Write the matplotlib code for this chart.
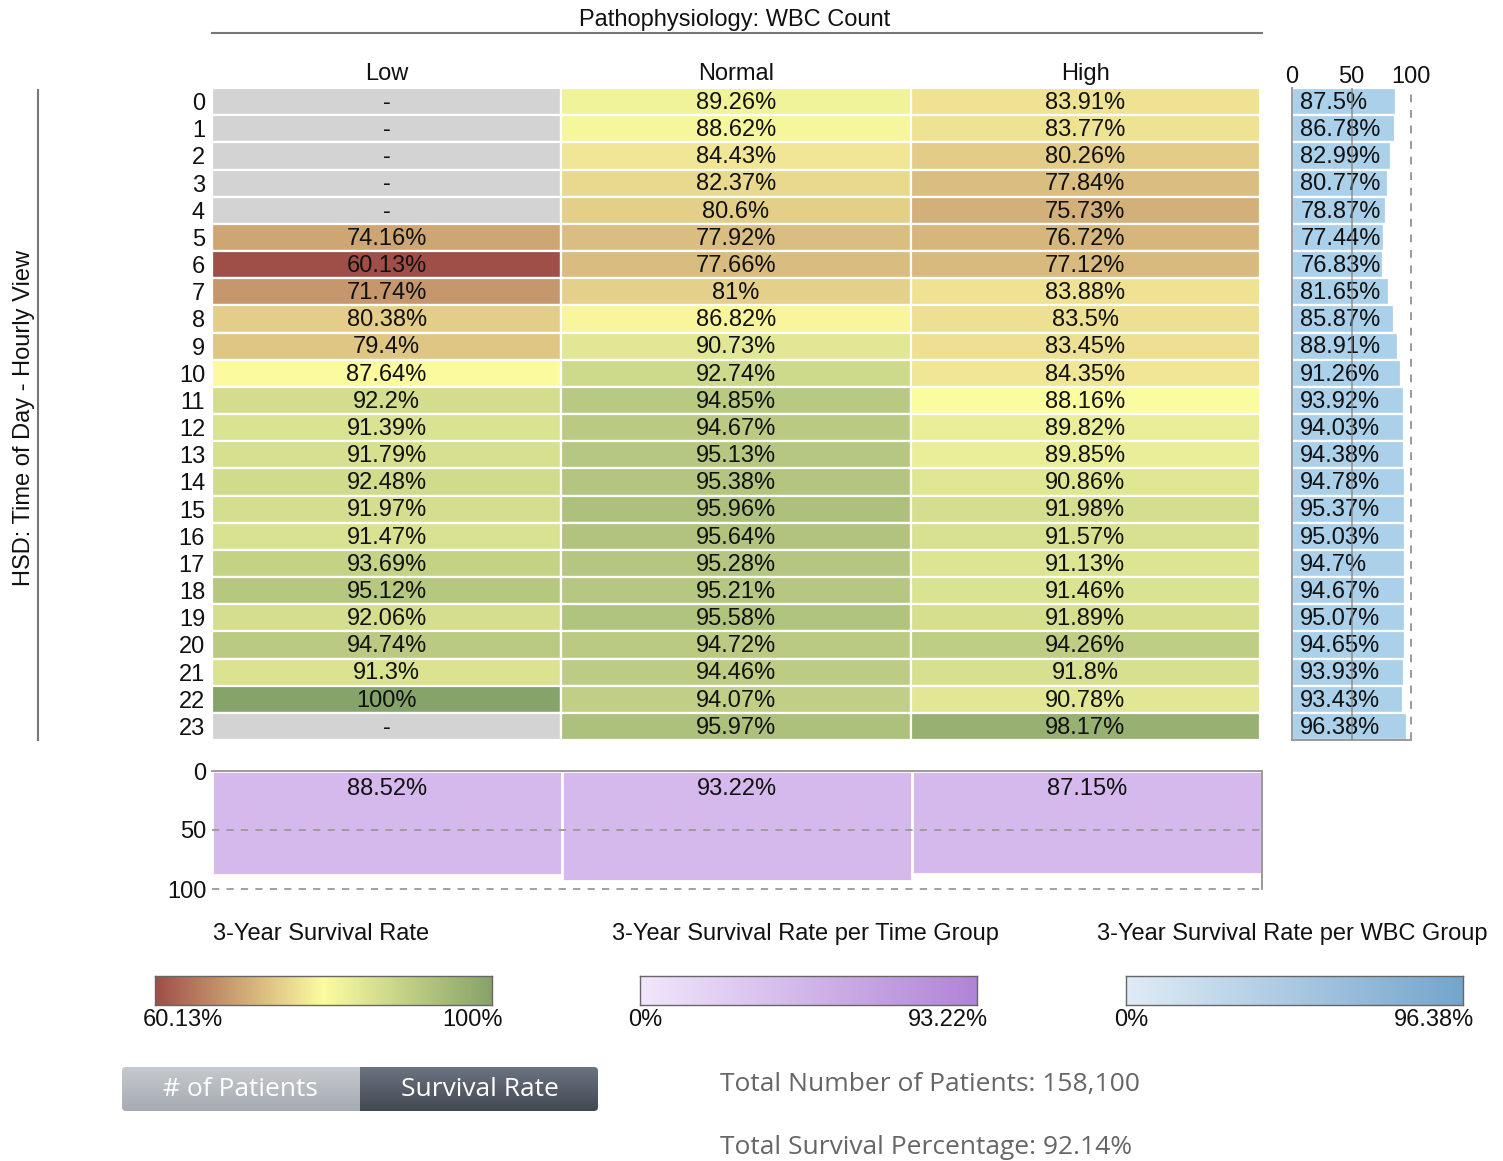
import numpy as np
import matplotlib
matplotlib.use("Agg")
import matplotlib.pyplot as plt
import matplotlib.transforms as mtransforms
from matplotlib.colors import LinearSegmentedColormap, TwoSlopeNorm
from matplotlib.lines import Line2D
from matplotlib.patches import FancyBboxPatch

plt.rcParams['font.family'] = ['Liberation Sans', 'DejaVu Sans']

# data
hours = list(range(24))
wbc_groups = ["Low", "Normal", "High"]
low = [np.nan] * 5 + [74.16, 60.13, 71.74, 80.38, 79.4, 87.64, 92.2, 91.39, 91.79,
                      92.48, 91.97, 91.47, 93.69, 95.12, 92.06, 94.74, 91.3, 100, np.nan]
normal = [89.26, 88.62, 84.43, 82.37, 80.6, 77.92, 77.66, 81, 86.82, 90.73, 92.74, 94.85,
          94.67, 95.13, 95.38, 95.96, 95.64, 95.28, 95.21, 95.58, 94.72, 94.46, 94.07, 95.97]
high = [83.91, 83.77, 80.26, 77.84, 75.73, 76.72, 77.12, 83.88, 83.5, 83.45, 84.35, 88.16,
        89.82, 89.85, 90.86, 91.98, 91.57, 91.13, 91.46, 91.89, 94.26, 91.8, 90.78, 98.17]
hour_rate = [87.5, 86.78, 82.99, 80.77, 78.87, 77.44, 76.83, 81.65, 85.87, 88.91, 91.26, 93.92,
             94.03, 94.38, 94.78, 95.37, 95.03, 94.7, 94.67, 95.07, 94.65, 93.93, 93.43, 96.38]
group_rate = [88.52, 93.22, 87.15]
total_patients = "158,100"
total_survival = 92.14

W, H = 1503, 1161
fig = plt.figure(figsize=(W / 100, H / 100), dpi=100)


def box(x0, y0, x1, y1):
    # pixel box -> figure fraction
    return [x0 / W, 1 - y1 / H, (x1 - x0) / W, (y1 - y0) / H]


def fx(x):
    return x / W


def fy(y):
    return 1 - y / H


txt = '#111111'
grid_c = '#9a9a9a'
fs = 17
ui_font = ['Open Sans', 'DejaVu Sans']

rate_cmap = LinearSegmentedColormap.from_list('rate', ['#9f4f48', '#fcfca0', '#86a36a'])
norm = TwoSlopeNorm(vmin=60.13, vcenter=88.0, vmax=100)

# --- main heatmap ---
ax = fig.add_axes(box(212, 88, 1260, 740))
for j, col in enumerate([low, normal, high]):
    colors = ['#d3d3d3' if np.isnan(v) else rate_cmap(norm(v)) for v in col]
    ax.barh(hours, 1, left=j, height=1, color=colors, edgecolor='white', linewidth=1.6)
    for i, v in enumerate(col):
        lab = '-' if np.isnan(v) else f"{v:g}%"
        ax.text(j + 0.5, i + 0.05, lab, ha='center', va='center', fontsize=fs, color=txt)
ax.set_xlim(0, 3)
ax.set_ylim(23.5, -0.5)
for s in ax.spines.values():
    s.set_visible(False)
ax.set_yticks(hours)
ax.set_yticklabels([str(h) for h in hours], fontsize=fs, color=txt)
shift = mtransforms.ScaledTranslation(0, 4 / 100, fig.dpi_scale_trans)
for lab in ax.get_yticklabels():
    lab.set_transform(lab.get_transform() + shift)
ax.xaxis.tick_top()
ax.set_xticks([0.5, 1.5, 2.5])
ax.set_xticklabels(wbc_groups, fontsize=fs, color=txt)
ax.tick_params(length=0, pad=2)
ax.tick_params(axis='y', pad=5)

fig.text(fx(735), fy(20), "Pathophysiology: WBC Count", ha='center', va='center',
         fontsize=fs, color=txt)
fig.add_artist(Line2D([fx(212), fx(1262)], [fy(33), fy(33)], color='#777777', lw=1.5))
fig.text(fx(24), fy(418), "HSD: Time of Day - Hourly View", rotation=90,
         ha='center', va='center', fontsize=fs, color=txt)
fig.add_artist(Line2D([fx(38), fx(38)], [fy(90), fy(740)], color='#777777', lw=1.5))

# --- survival per hour (right) ---
axr = fig.add_axes(box(1292, 88, 1411, 740))
axr.barh(hours, hour_rate, height=1, color='#abd0ea', edgecolor='white', linewidth=1.6)
for i, v in enumerate(hour_rate):
    axr.text(7, i + 0.05, f"{v:g}%", ha='left', va='center', fontsize=fs, color=txt)
axr.axvline(50, color='#808080', lw=1.3, alpha=0.7, zorder=3)
axr.axvline(100, color=grid_c, lw=1.4, ls=(0, (4, 4)), zorder=3, clip_on=False)
axr.set_xlim(0, 100)
axr.set_ylim(23.5, -0.5)
axr.spines['top'].set_visible(False)
axr.spines['right'].set_visible(False)
for side in ['left', 'bottom']:
    axr.spines[side].set_color(grid_c)
    axr.spines[side].set_linewidth(1.4)
axr.xaxis.tick_top()
axr.set_xticks([0, 50, 100])
axr.set_xticklabels(['0', '50', '100'], fontsize=fs, color=txt)
axr.set_yticks([])
axr.tick_params(length=0, pad=0)

# --- survival per WBC group (bottom) ---
axb = fig.add_axes(box(212, 771, 1262, 889))
axb.bar([0.5, 1.5, 2.5], group_rate, width=1, color='#d5b8ec', edgecolor='white', linewidth=2)
for i, v in enumerate(group_rate):
    axb.text(i + 0.5, 15, f"{v:g}%", ha='center', va='center', fontsize=fs, color=txt)
for yv in [50, 100]:
    axb.axhline(yv, color=grid_c, lw=1.3, ls=(0, (4, 4)), zorder=3, clip_on=False)
axb.set_xlim(0, 3)
axb.set_ylim(100, 0)
axb.spines['left'].set_visible(False)
axb.spines['bottom'].set_visible(False)
for side in ['top', 'right']:
    axb.spines[side].set_color(grid_c)
    axb.spines[side].set_linewidth(1.4)
axb.set_xticks([])
axb.set_yticks([0, 50, 100])
axb.set_yticklabels(['0', '50', '100'], fontsize=fs, color=txt)
axb.tick_params(length=0, pad=4)

# --- legends ---
legends = [
    ("3-Year Survival Rate", 213, 155, rate_cmap, "60.13%", "100%"),
    ("3-Year Survival Rate per Time Group", 612, 640,
     LinearSegmentedColormap.from_list('p', ['#f1e7fb', '#b084d6']), "0%", "93.22%"),
    ("3-Year Survival Rate per WBC Group", 1097, 1126,
     LinearSegmentedColormap.from_list('b', ['#dfecf6', '#74a5cc']), "0%", "96.38%"),
]
grad = np.linspace(0, 1, 256).reshape(1, -1)
for title, tx, cx, cmap, lo, hi in legends:
    fig.text(fx(tx), fy(934), title, ha='left', va='center', fontsize=fs, color=txt)
    cax = fig.add_axes(box(cx, 976, cx + 337, 1005))
    cax.imshow(grad, aspect='auto', cmap=cmap)
    cax.set_xticks([])
    cax.set_yticks([])
    for s in cax.spines.values():
        s.set_color('#666666')
        s.set_linewidth(1)
    fig.text(fx(cx - 12), fy(1020), lo, ha='left', va='center', fontsize=fs, color=txt)
    fig.text(fx(cx + 348), fy(1020), hi, ha='right', va='center', fontsize=fs, color=txt)

# --- toggle buttons ---
bax = fig.add_axes(box(120, 1066, 600, 1112))
bax.set_xlim(0, 480)
bax.set_ylim(0, 46)
bax.axis('off')
vgrad = np.linspace(0, 1, 64).reshape(-1, 1)
clip = FancyBboxPatch((2, 1), 476, 44, boxstyle="round,pad=0,rounding_size=4",
                      transform=bax.transData, facecolor='none', edgecolor='none')
bax.add_patch(clip)
for x0, x1, c_top, c_bot in [(0, 240, '#c6cacf', '#a6abb1'), (240, 480, '#6d7582', '#414751')]:
    im = bax.imshow(vgrad, aspect='auto', extent=(x0, x1, 0, 46), origin='upper',
                    cmap=LinearSegmentedColormap.from_list('g', [c_top, c_bot]))
    im.set_clip_path(clip)
bax.text(120, 22, "# of Patients", ha='center', va='center', color='white',
         fontsize=19, family=ui_font)
bax.text(360, 22, "Survival Rate", ha='center', va='center', color='white',
         fontsize=19, family=ui_font)

fig.text(fx(720), fy(1084), f"Total Number of Patients: {total_patients}", ha='left',
         va='center', fontsize=19, color='#666666', family=ui_font)
fig.text(fx(720), fy(1147), f"Total Survival Percentage: {total_survival:g}%", ha='left',
         va='center', fontsize=19, color='#666666', family=ui_font)

fig.savefig("out.png", dpi=100, facecolor='white')
